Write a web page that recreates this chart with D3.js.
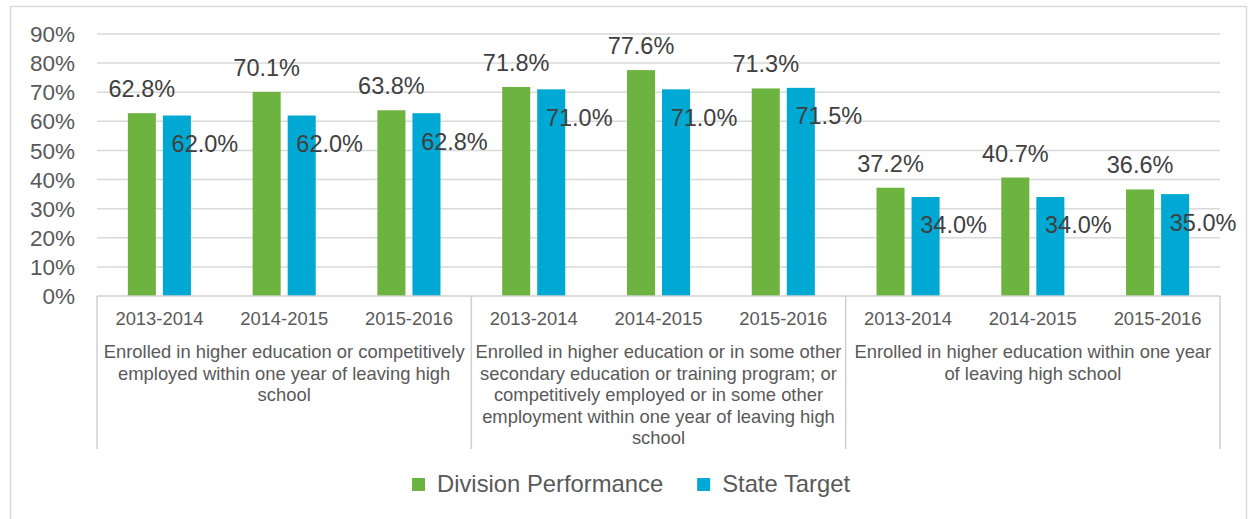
<!DOCTYPE html>
<html>
<head>
<meta charset="utf-8">
<script src="https://cdn.jsdelivr.net/npm/d3@7"></script>
<style>
  body { margin: 0; background: #fff; }
  svg { display: block; font-family: "Liberation Sans", Arial, sans-serif; }
</style>
</head>
<body>
<svg id="chart" width="1248" height="519"></svg>
<script>
// data
const years = ["2013-2014", "2014-2015", "2015-2016"];
const groupLabels = [
    ["Enrolled in higher education or competitively", "employed within one year of leaving high", "school"],
    ["Enrolled in higher education or in some other", "secondary education or training program; or", "competitively employed or in some other", "employment within one year of leaving high", "school"],
    ["Enrolled in higher education within one year", "of leaving high school"]
];
const seriesNames = ["Division Performance", "State Target"];
const seriesColors = ["#6db33f", "#00a9d3"];
const divisionPerformance = [62.8, 70.1, 63.8, 71.8, 77.6, 71.3, 37.2, 40.7, 36.6];
const stateTarget = [62.0, 62.0, 62.8, 71.0, 71.0, 71.5, 34.0, 34.0, 35.0];
const yTicks = [0, 10, 20, 30, 40, 50, 60, 70, 80, 90];

const svg = d3.select("#chart");

// outer frame
svg.append("rect")
    .attr("x", 10.5).attr("y", 6.5)
    .attr("width", 1236).attr("height", 520)
    .attr("fill", "none").attr("stroke", "#d9d9d9").attr("stroke-width", 1.5);

const plotLeft = 97, plotRight = 1220, plotTop = 34, plotBottom = 296;

// one band per (group, year)
const keys = [];
groupLabels.forEach((g, gi) => years.forEach(yr => keys.push(gi + "|" + yr)));

const x = d3.scaleBand().domain(keys).range([plotLeft, plotRight]).padding(0);
const xs = d3.scaleBand().domain(seriesNames).range([0, x.bandwidth()])
    .paddingInner(0.2).paddingOuter(0.88);
const y = d3.scaleLinear().domain([0, 90]).range([plotBottom, plotTop]);

// gridlines
svg.append("g")
    .selectAll("line")
    .data(yTicks.filter(t => t > 0))
    .enter().append("line")
    .attr("x1", plotLeft).attr("x2", plotRight)
    .attr("y1", d => y(d)).attr("y2", d => y(d))
    .attr("stroke", "#d9d9d9").attr("stroke-width", 1.5);

// y labels
svg.append("g")
    .selectAll("text")
    .data(yTicks)
    .enter().append("text")
    .attr("x", 75)
    .attr("y", d => y(d))
    .attr("dy", "0.36em")
    .attr("text-anchor", "end")
    .attr("font-size", 22.5)
    .attr("fill", "#595959")
    .text(d => d + "%");

// bars
const rows = keys.map((k, i) => ({ key: k, values: [divisionPerformance[i], stateTarget[i]] }));

const cat = svg.append("g").selectAll("g")
    .data(rows)
    .enter().append("g")
    .attr("transform", d => `translate(${x(d.key)},0)`);

cat.selectAll("rect")
    .data(d => d.values.map((v, s) => ({ v, s })))
    .enter().append("rect")
    .attr("x", d => xs(seriesNames[d.s]))
    .attr("y", d => y(d.v))
    .attr("width", xs.bandwidth())
    .attr("height", d => y(0) - y(d.v))
    .attr("fill", d => seriesColors[d.s]);

// data labels (green above the bar, blue offset right/down like the original)
cat.selectAll("text")
    .data(d => d.values.map((v, s) => ({ v, s })))
    .enter().append("text")
    .attr("x", d => xs(seriesNames[d.s]) + xs.bandwidth() / 2 + (d.s === 1 ? 28 : 0))
    .attr("y", d => d.s === 0 ? y(d.v) - 16 : y(d.v) + 28)
    .attr("dy", d => d.s === 0 ? 0 : "0.36em")
    .attr("text-anchor", "middle")
    .attr("font-size", 23.5)
    .attr("fill", "#404040")
    .text(d => d.v.toFixed(1) + "%");

// x axis line and separators
svg.append("line")
    .attr("x1", plotLeft).attr("x2", plotRight)
    .attr("y1", plotBottom).attr("y2", plotBottom)
    .attr("stroke", "#d0d0d0").attr("stroke-width", 1.5);

const groupW = (plotRight - plotLeft) / groupLabels.length;
svg.append("g")
    .selectAll("line")
    .data(d3.range(groupLabels.length + 1))
    .enter().append("line")
    .attr("x1", i => plotLeft + i * groupW).attr("x2", i => plotLeft + i * groupW)
    .attr("y1", plotBottom).attr("y2", 449)
    .attr("stroke", "#d0d0d0").attr("stroke-width", 1.5);

// year labels
svg.append("g")
    .selectAll("text")
    .data(keys)
    .enter().append("text")
    .attr("x", d => x(d) + x.bandwidth() / 2)
    .attr("y", 325)
    .attr("text-anchor", "middle")
    .attr("font-size", 18.4)
    .attr("fill", "#595959")
    .text(d => d.split("|")[1]);

// group labels
const gl = svg.append("g")
    .selectAll("text")
    .data(groupLabels)
    .enter().append("text")
    .attr("text-anchor", "middle")
    .attr("font-size", 18.4)
    .attr("fill", "#595959");

gl.selectAll("tspan")
    .data((d, gi) => d.map((line, li) => ({ line, li, gi })))
    .enter().append("tspan")
    .attr("x", d => plotLeft + (d.gi + 0.5) * groupW)
    .attr("y", d => 358 + d.li * 21.5)
    .text(d => d.line);

// legend
const legend = svg.append("g");
let lx = 412;
seriesNames.forEach((name, i) => {
    legend.append("rect")
        .attr("x", lx).attr("y", 478)
        .attr("width", 13).attr("height", 13)
        .attr("fill", seriesColors[i]);
    const t = legend.append("text")
        .attr("x", lx + 25).attr("y", 492)
        .attr("font-size", 23.8)
        .attr("fill", "#595959")
        .text(name);
    lx += 25 + t.node().getComputedTextLength() + 34;
});
</script>
</body>
</html>
